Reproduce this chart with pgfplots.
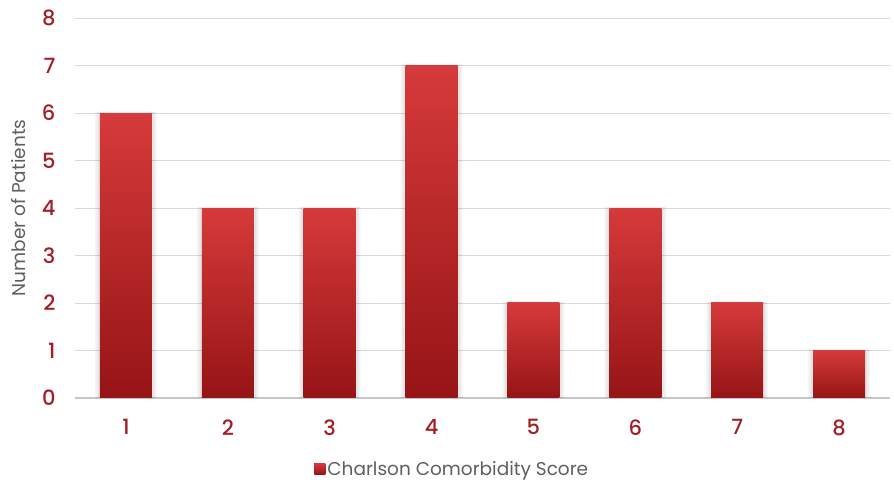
\documentclass[border=0pt]{standalone}
\usepackage{pgfplots}
\pgfplotsset{compat=1.18}
\usepackage{fontspec}
\setmainfont{Poppins}
\newfontfamily\tickfont{Poppins}[UprightFont=* Medium]
\definecolor{tickred}{RGB}{163,30,36}
\definecolor{labgray}{RGB}{95,95,95}
\definecolor{gridgray}{RGB}{217,217,217}
\definecolor{bartop}{RGB}{214,58,58}
\definecolor{barmid}{RGB}{202,50,50}
\definecolor{barbot}{RGB}{150,20,22}

% one bar per plot so that each bar gets its own top-to-bottom shading
\pgfplotsset{
  redbar/.style={ybar, bar width=52pt, bar shift=0pt, draw=none,
    top color=bartop, middle color=barmid, bottom color=barbot},
  shadowbar/.style={ybar, bar width=#1, bar shift=0pt, draw=none,
    fill=black, fill opacity=0.035, forget plot},
}

\begin{document}
\begin{tikzpicture}
\begin{axis}[
  at={(0,0)}, anchor=south west,
  scale only axis,
  width=815pt, height=380pt,
  xmin=0.5, xmax=8.5,
  ymin=0, ymax=8,
  xtick={1,...,8},
  ytick={0,...,8},
  axis line style={draw=none},
  ymajorgrids,
  grid style={gridgray, line width=0.8pt},
  major tick length=0pt,
  tick style={draw=none},
  /pgf/number format/assume math mode=true,
  ticklabel style={font=\tickfont\fontsize{21}{22}\selectfont, text=tickred},
  yticklabel style={xshift=-16pt},
  xticklabel style={yshift=-18pt},
  ylabel={Number of Patients},
  ylabel style={font=\fontsize{18.5}{20}\selectfont, text=labgray, yshift=9pt},
  legend style={at={(0.463,-0.155)}, anchor=north, draw=none,
    font=\fontsize{18.5}{20}\selectfont, text=labgray},
  legend image code/.code={\fill[top color=bartop, bottom color=barbot]
    (-4pt,-5.5pt) rectangle (7pt,5.5pt);},
  clip=false,
]
\draw[gridgray!80!gray, line width=1.2pt] (axis cs:0.5,0) -- (axis cs:8.5,0);

% soft shadow around the bars
\addplot[shadowbar=62pt] coordinates {(1,6.03) (2,4.03) (3,4.03) (4,7.03) (5,2.03) (6,4.03) (7,2.03) (8,1.03)};
\addplot[shadowbar=59pt] coordinates {(1,6.02) (2,4.02) (3,4.02) (4,7.02) (5,2.02) (6,4.02) (7,2.02) (8,1.02)};
\addplot[shadowbar=56pt] coordinates {(1,6.01) (2,4.01) (3,4.01) (4,7.01) (5,2.01) (6,4.01) (7,2.01) (8,1.01)};

\addplot[redbar] coordinates {(1,6)};
\addlegendentry{Charlson Comorbidity Score}
\addplot[redbar, forget plot] coordinates {(2,4)};
\addplot[redbar, forget plot] coordinates {(3,4)};
\addplot[redbar, forget plot] coordinates {(4,7)};
\addplot[redbar, forget plot] coordinates {(5,2)};
\addplot[redbar, forget plot] coordinates {(6,4)};
\addplot[redbar, forget plot] coordinates {(7,2)};
\addplot[redbar, forget plot] coordinates {(8,1)};
\end{axis}
\pgfresetboundingbox
\path (-75pt,-86pt) rectangle (819pt,398pt);
\end{tikzpicture}
\end{document}
